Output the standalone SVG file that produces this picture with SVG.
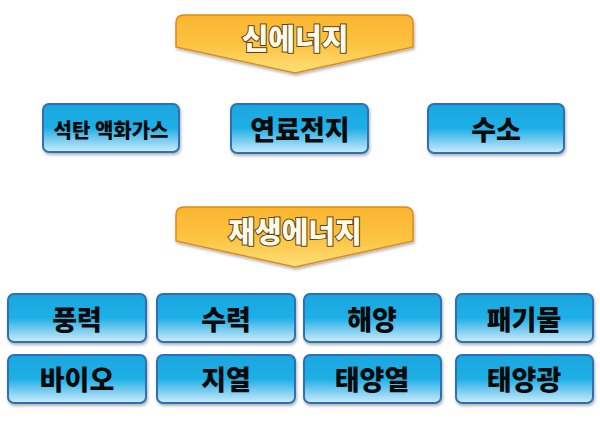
<svg xmlns="http://www.w3.org/2000/svg" width="600" height="422" viewBox="0 0 600 422">
<defs>
<linearGradient id="blue" x1="0" y1="0" x2="0" y2="1">
<stop offset="0" stop-color="#19a6df"/>
<stop offset="0.5" stop-color="#1fb0e6"/>
<stop offset="0.72" stop-color="#6fc8ef"/>
<stop offset="1" stop-color="#cdedfb"/>
</linearGradient>
<linearGradient id="orange" x1="0" y1="0" x2="0" y2="1">
<stop offset="0" stop-color="#fbb531"/>
<stop offset="0.5" stop-color="#fcc23f"/>
<stop offset="1" stop-color="#fde07a"/>
</linearGradient>
<filter id="sh" x="-10%" y="-10%" width="120%" height="140%">
<feDropShadow dx="1" dy="2" stdDeviation="1.5" flood-color="#000" flood-opacity="0.3"/>
</filter>
</defs>
<style>
.box{fill:url(#blue);stroke:#2f6fb3;stroke-width:2;filter:url(#sh)}
.lbl{font-family:"Noto Sans CJK KR","Noto Sans",sans-serif;font-weight:900;fill:#0a0a0a;text-anchor:middle;dominant-baseline:central}
.ban{fill:url(#orange);stroke:#e08a1a;stroke-width:1.5;filter:url(#sh)}
.btxt{font-family:"Noto Sans CJK KR","Noto Sans",sans-serif;font-weight:900;font-size:29px;fill:#fffbe8;stroke:#5e3f12;stroke-width:2;paint-order:stroke;text-anchor:middle;dominant-baseline:central}
</style>
<g id="banner1">
<path class="ban" d="M184,15 H405 Q413,15 413,23 V47 L295,73 L176,47 V23 Q176,15 184,15 Z"/>
<text class="btxt" x="295" y="37">신에너지</text>
</g>
<g id="node-coal">
<rect class="box" x="43" y="104" width="136" height="48" rx="6"/>
<text class="lbl" x="111" y="129" font-size="20">석탄 액화가스</text>
</g>
<g id="node-fuelcell">
<rect class="box" x="231" y="104" width="137" height="49" rx="6"/>
<text class="lbl" x="300" y="128" font-size="27">연료전지</text>
</g>
<g id="node-hydrogen">
<rect class="box" x="428" y="104" width="136" height="49" rx="6"/>
<text class="lbl" x="496" y="128" font-size="27">수소</text>
</g>
<g id="banner2">
<path class="ban" d="M184,207 H405 Q413,207 413,215 V241 L295,267 L176,241 V215 Q176,207 184,207 Z"/>
<text class="btxt" x="295" y="230">재생에너지</text>
</g>
<g id="node-wind">
<rect class="box" x="8" y="294" width="138" height="48" rx="6"/>
<text class="lbl" x="77" y="318" font-size="27">풍력</text>
</g>
<g id="node-hydro">
<rect class="box" x="157" y="294" width="138" height="48" rx="6"/>
<text class="lbl" x="226" y="318" font-size="27">수력</text>
</g>
<g id="node-ocean">
<rect class="box" x="304" y="294" width="137" height="48" rx="6"/>
<text class="lbl" x="372" y="318" font-size="27">해양</text>
</g>
<g id="node-waste">
<rect class="box" x="456" y="294" width="137" height="48" rx="6"/>
<text class="lbl" x="524" y="318" font-size="27">패기물</text>
</g>
<g id="node-bio">
<rect class="box" x="8" y="355" width="138" height="48" rx="6"/>
<text class="lbl" x="77" y="378" font-size="27">바이오</text>
</g>
<g id="node-geo">
<rect class="box" x="157" y="355" width="138" height="48" rx="6"/>
<text class="lbl" x="226" y="378" font-size="27">지열</text>
</g>
<g id="node-solarheat">
<rect class="box" x="304" y="355" width="137" height="48" rx="6"/>
<text class="lbl" x="372" y="378" font-size="27">태양열</text>
</g>
<g id="node-solarpv">
<rect class="box" x="456" y="355" width="137" height="48" rx="6"/>
<text class="lbl" x="524" y="378" font-size="27">태양광</text>
</g>
<g id="connectors"/>
</svg>
